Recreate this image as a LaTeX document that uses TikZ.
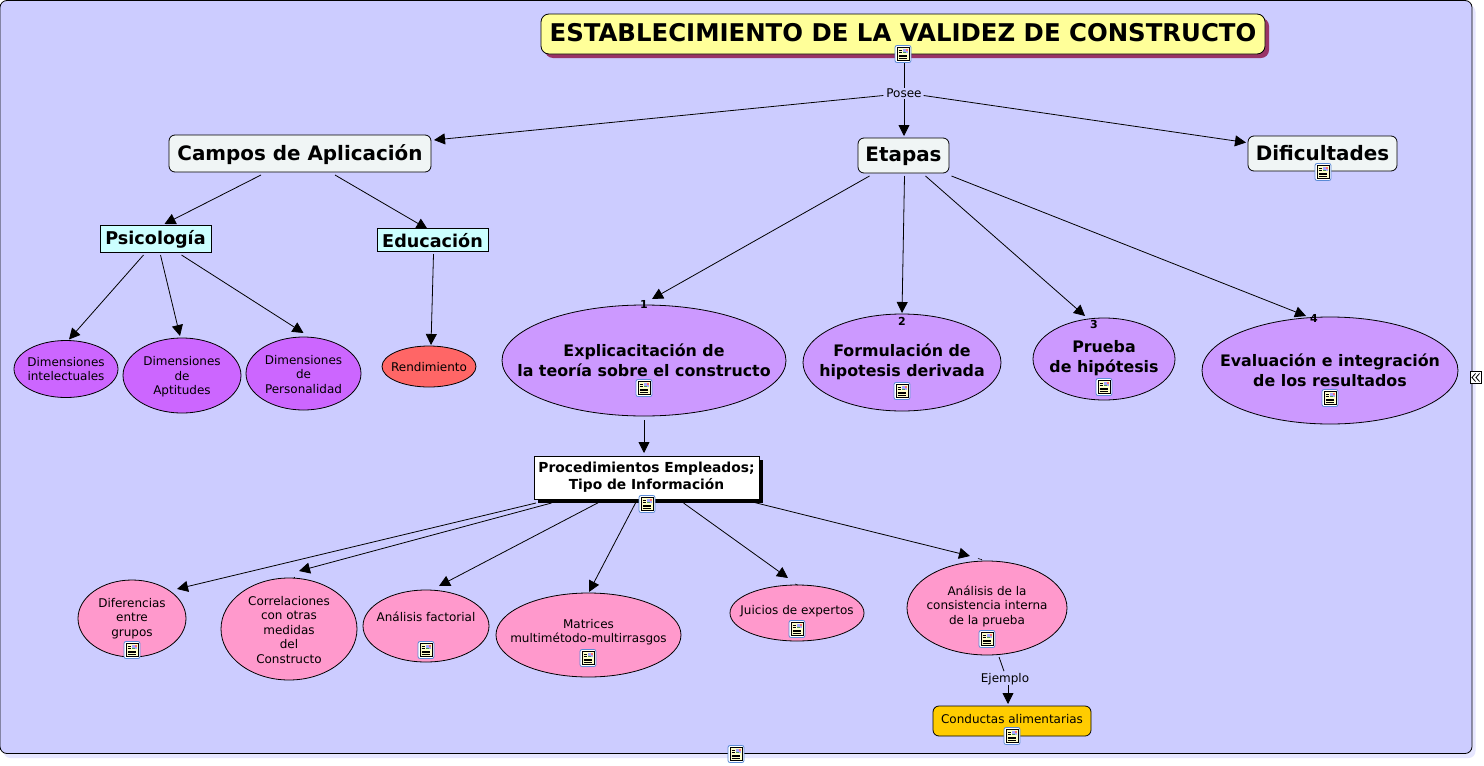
\documentclass[tikz,border=0pt]{standalone}
\usepackage{fontspec}
\setmainfont{DejaVu Sans}
\usetikzlibrary{arrows.meta,shapes.geometric,shadows}
\definecolor{bgblue}{HTML}{CCCCFF}
\definecolor{bgshade}{HTML}{E6E6FF}
\definecolor{titley}{HTML}{FFFF99}
\definecolor{titles}{HTML}{993366}
\definecolor{pale}{HTML}{F0F5F5}
\definecolor{cyanb}{HTML}{CCFFFF}
\definecolor{viol}{HTML}{CC66FF}
\definecolor{lilac}{HTML}{CC99FF}
\definecolor{pinkb}{HTML}{FF99CC}
\definecolor{redb}{HTML}{FF6666}
\definecolor{goldb}{HTML}{FFCC00}
\definecolor{iconb}{HTML}{5A8AD6}
\definecolor{icony}{HTML}{FFFFCC}
\tikzset{
  x=1pt,y=-1pt,
  box/.style={draw=black,line width=.8pt,inner sep=0pt,outer sep=0pt},
  rbox/.style={box,rounded corners=6pt},
  ell/.style={box,ellipse},
  tx/.style={inner sep=0pt,outer sep=0pt,align=center,font=\fontsize{12}{14.5}\selectfont},
  tb/.style={inner sep=0pt,outer sep=0pt,align=center,font=\fontsize{15.85}{19.7}\selectfont\bfseries},
  conn/.style={draw=black,line width=.8pt,-{Triangle[length=11pt,width=11pt]}},
  plainline/.style={draw=black,line width=.8pt},
  num/.style={inner sep=0pt,outer sep=0pt,font=\fontsize{11}{13}\selectfont\bfseries},
  docicon/.pic={
    \fill[white,draw=iconb,line width=.8pt,rounded corners=2pt] (-8,-8.5) rectangle (8,8.5);
    \fill[icony,draw=black,line width=.6pt] (-5.8,-6.3) rectangle (5.8,6.3);
    \fill[blue!35!white] (-.5,-5.3) rectangle (5,-.8);
    \fill[red!55!white] (2.5,-5.3) rectangle (4.5,-3.4);
    \fill[green!45!black!70!white] (-.5,-2.2) rectangle (2.5,-.8);
    \draw[black,line width=.45pt] (-4.3,-3.6)--(-1.4,-3.6) (-4.3,-1.6)--(-1.4,-1.6) (-4.3,.8)--(4.3,.8) (-4.3,2.6)--(4.3,2.6) (-4.3,4.4)--(4.3,4.4);
  }
}
\begin{document}
\begin{tikzpicture}
\useasboundingbox (0,0) rectangle (1484,766);
\fill[white] (0,0) rectangle (1484,766);
\node[box,rounded corners=7pt,fill=bgblue,minimum width=1472pt,minimum height=753pt,
  general shadow={fill=bgshade,shadow xshift=3.5pt,shadow yshift=-4.5pt}] (sheet) at (736,377) {};

% main nodes
\node[rbox,rounded corners=8pt,fill=titley,minimum width=724pt,minimum height=40pt,
  general shadow={fill=titles,shadow xshift=4pt,shadow yshift=-4pt},
  label={[tx,yshift=1.5pt,font=\fontsize{24.4}{28}\selectfont\bfseries]center:ESTABLECIMIENTO DE LA VALIDEZ DE CONSTRUCTO}] (title) at (903,34) {};
\node[tx] (posee) at (904,93.5) {Posee};
\node[rbox,fill=pale,minimum width=262pt,minimum height=37pt,label={[tx,yshift=-1pt,font=\fontsize{19.9}{24}\selectfont\bfseries]center:Campos de Aplicación}] (campos) at (300,153.5) {};
\node[rbox,fill=pale,minimum width=91pt,minimum height=35pt,label={[tx,yshift=-1pt,font=\fontsize{19.9}{24}\selectfont\bfseries]center:Etapas}] (etapas) at (903.5,155.5) {};
\node[rbox,fill=pale,minimum width=149pt,minimum height=35pt,label={[tx,font=\fontsize{19.9}{24}\selectfont\bfseries]center:Dificultades}] (dific) at (1322.5,153.5) {};
\node[box,fill=cyanb,minimum width=111pt,minimum height=27pt,label={[tx,yshift=-1pt,font=\fontsize{17.6}{22}\selectfont\bfseries]center:Psicología}] (psico) at (155.5,238.5) {};
\node[box,fill=cyanb,minimum width=111pt,minimum height=23pt,label={[tx,yshift=-1pt,font=\fontsize{17.6}{22}\selectfont\bfseries]center:Educación}] (educ) at (432.5,239.5) {};

\node[ell,fill=viol,minimum width=104pt,minimum height=57pt,label={[tx]center:Dimensiones\\intelectuales}] (dint) at (66,369) {};
\node[ell,fill=viol,minimum width=118pt,minimum height=75pt,label={[tx,yshift=-1.5pt]center:Dimensiones\\de\\Aptitudes}] (dapt) at (182,375.5) {};
\node[ell,fill=viol,minimum width=115pt,minimum height=73pt,label={[tx,yshift=-1pt]center:Dimensiones\\de\\Personalidad}] (dper) at (303.5,373.5) {};
\node[ell,fill=redb,minimum width=94pt,minimum height=41pt,label={[tx,yshift=-1pt]center:Rendimiento}] (rend) at (429,366.5) {};

\node[ell,fill=lilac,minimum width=284pt,minimum height=111pt,label={[tb,yshift=.5pt]center:Explicacitación de\\la teoría sobre el constructo}] (expl) at (644,360.5) {};
\node[ell,fill=lilac,minimum width=198pt,minimum height=97pt,label={[tb,yshift=1pt]center:Formulación de\\hipotesis derivada}] (form) at (902,362.5) {};
\node[ell,fill=lilac,minimum width=142pt,minimum height=82pt,label={[tb,yshift=1pt]center:Prueba\\de hipótesis}] (prue) at (1104,359) {};
\node[ell,fill=lilac,minimum width=256pt,minimum height=107pt,label={[tb]center:Evaluación e integración\\de los resultados}] (eval) at (1330,370.5) {};

\node[box,fill=white,minimum width=225pt,minimum height=43pt,
  general shadow={fill=black,shadow xshift=4pt,shadow yshift=-4pt},
  label={[tx,yshift=.5pt,font=\fontsize{13.8}{17.5}\selectfont\bfseries]center:Procedimientos Empleados;\\Tipo de Información}] (proc) at (646.5,477.5) {};

\node[ell,fill=pinkb,minimum width=108pt,minimum height=77pt,label={[tx]center:Diferencias\\entre\\grupos}] (dife) at (132,618.5) {};
\node[ell,fill=pinkb,minimum width=136pt,minimum height=102pt,label={[tx,yshift=-1pt]center:Correlaciones\\con otras\\medidas\\del\\Constructo}] (corr) at (289,629) {};
\node[ell,fill=pinkb,minimum width=126pt,minimum height=72pt,label={[tx,yshift=9pt]center:Análisis factorial}] (fact) at (426,626) {};
\node[ell,fill=pinkb,minimum width=185pt,minimum height=84pt,label={[tx,yshift=3pt]center:Matrices\\multimétodo-multirrasgos}] (matr) at (588.5,635) {};
\node[ell,fill=pinkb,minimum width=134pt,minimum height=56pt,label={[tx,yshift=2pt]center:Juicios de expertos}] (juic) at (797,613) {};
\node[ell,fill=pinkb,minimum width=160pt,minimum height=94pt,label={[tx,yshift=2pt]center:Análisis de la\\consistencia interna\\de la prueba}] (cons) at (987,608) {};
\node[tx] (ejem) at (1005,679) {Ejemplo};
\node[rbox,fill=goldb,minimum width=158pt,minimum height=30pt,label={[tx,yshift=2pt]center:Conductas alimentarias}] (cond) at (1012,721) {};

% numbers
\node[num] (n1) at (644,304.5) {1};
\node[num] (n2) at (902,321.5) {2};
\node[num] (n3) at (1094,324.5) {3};
\node[num] (n4) at (1314,318.5) {4};

% connectors
\draw[plainline] ([shift={(1,8)}]title.south) -- ([shift={(0,-1)}]posee.north);
\draw[conn] ([shift={(-3,2)}]posee.west) -- ([shift={(3,-13.5)}]campos.east);
\draw[conn] ([shift={(0,1)}]posee.south) -- ([shift={(.5,-2)}]etapas.north);
\draw[conn] ([shift={(2,2)}]posee.east) -- ([shift={(-2,-11)}]dific.west);
\draw[conn] ([shift={(-39,3)}]campos.south) -- ([shift={(9,-1)}]psico.north);
\draw[conn] ([shift={(35,3)}]campos.south) -- ([shift={(-5,1)}]educ.north);
\draw[conn] ([shift={(-12,3)}]psico.south) -- ([shift={(3,-1)}]dint.north);
\draw[conn] ([shift={(5,3)}]psico.south) -- ([shift={(-2,-2)}]dapt.north);
\draw[conn] ([shift={(26,3)}]psico.south) -- ([shift={(0,-4)}]dper.north);
\draw[conn] ([shift={(1,3)}]educ.south) -- ([shift={(2,-1)}]rend.north);
\draw[conn] ([shift={(-34,3)}]etapas.south) -- ([shift={(8,-6)}]expl.north);
\draw[conn] ([shift={(1,3)}]etapas.south) -- ([shift={(0,-1)}]form.north);
\draw[conn] ([shift={(22,3)}]etapas.south) -- ([shift={(-19,-2)}]prue.north);
\draw[conn] ([shift={(48,3)}]etapas.south) -- ([shift={(-24,-1)}]eval.north);
\draw[conn] ([shift={(0,4)}]expl.south) -- ([shift={(-2.5,-3)}]proc.north);
\draw[conn] ([shift={(-110.5,4)}]proc.south) -- ([shift={(45,9)}]dife.north);
\draw[conn] ([shift={(-95,4)}]proc.south) -- ([shift={(10,-7)}]corr.north);
\draw[conn] ([shift={(-47,3)}]proc.south) -- ([shift={(13,-4)}]fact.north);
\draw[conn] ([shift={(-11,4)}]proc.south) -- ([shift={(0.5,-1)}]matr.north);
\draw[conn] ([shift={(37,4)}]proc.south) -- ([shift={(-9,-7)}]juic.north);
\draw[conn] ([shift={(108,3.5)}]proc.south) -- ([shift={(-17,-5)}]cons.north);
\draw[plainline] ([shift={(12,2)}]cons.south) -- ([shift={(-1,-2)}]ejem.north);
\draw[conn] ([shift={(3,0)}]ejem.south) -- ([shift={(-4,-2)}]cond.north);

% tiny marks
\draw[line width=.6pt] ([shift={(-9,-2.5)}]cons.north) -- +(4,1.2);
\draw[line width=.6pt] ([shift={(-2,-1)}]juic.north) -- +(3,1.2);
\draw[line width=.6pt] ([shift={(5,-1.5)}]corr.north) -- +(0,1.5);

% document icons
\pic at (903,54) {docicon};
\pic at (1323,172) {docicon};
\pic at (644,388) {docicon};
\pic at (902,391) {docicon};
\pic at (1104,387) {docicon};
\pic at (1330,398) {docicon};
\pic at (647,504) {docicon};
\pic at (132,650) {docicon};
\pic at (426,650) {docicon};
\pic at (588,658) {docicon};
\pic at (797,629) {docicon};
\pic at (987,639) {docicon};
\pic at (1012,736) {docicon};
\pic at (736,754) {docicon};

% collapse button
\node[box,fill=white,minimum width=11.5pt,minimum height=11.5pt] (collapse) at (1476,377.5) {};
\draw[line width=.8pt] ([xshift=-.5pt]collapse.center) ++(0,-4) -- ++(-3.5,4) -- ++(3.5,4);
\draw[line width=.8pt] ([xshift=3.5pt]collapse.center) ++(0,-4) -- ++(-3.5,4) -- ++(3.5,4);
\end{tikzpicture}
\end{document}
